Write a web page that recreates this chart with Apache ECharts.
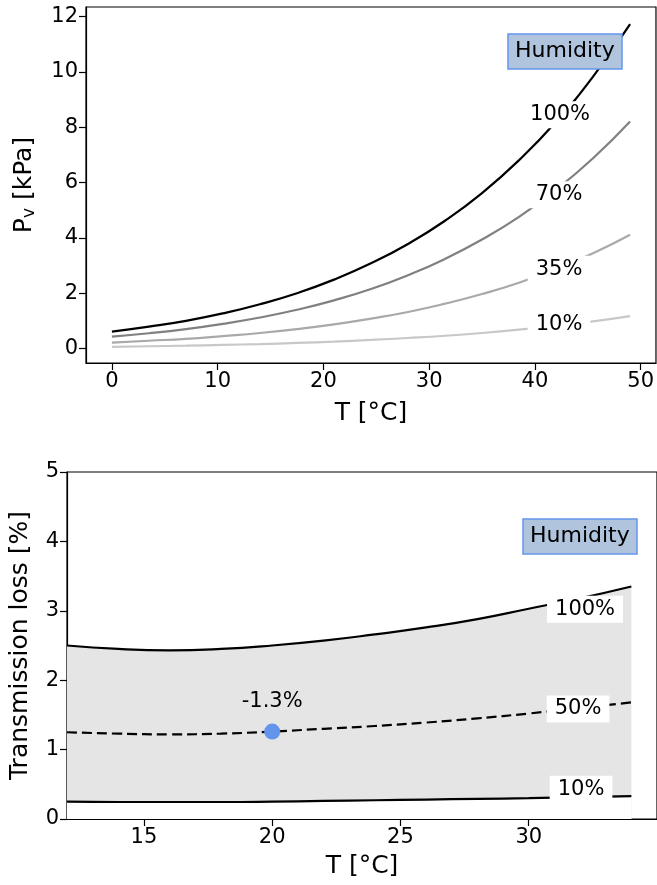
<!DOCTYPE html>
<html>
<head>
<meta charset="utf-8">
<script src="https://cdn.jsdelivr.net/npm/echarts@6/dist/echarts.min.js"></script>
<style>
  html, body { margin: 0; padding: 0; background: #fff; }
  #chart { width: 657px; height: 885px; }
</style>
</head>
<body>
<div id="chart"></div>
<script>
// top panel: vapour pressure vs temperature
const tempTop = [0, 3.5, 7, 10.5, 14, 17.5, 21, 24.5, 28, 31.5, 35, 38.5, 42, 45.5, 49];
const vp100 = [0.61, 0.79, 1.00, 1.27, 1.60, 2.00, 2.49, 3.08, 3.78, 4.62, 5.62, 6.81, 8.20, 9.83, 11.73];
const vp70 = [0.43, 0.55, 0.70, 0.89, 1.12, 1.40, 1.74, 2.15, 2.65, 3.24, 3.94, 4.76, 5.74, 6.88, 8.21];
const vp35 = [0.21, 0.28, 0.35, 0.45, 0.56, 0.70, 0.87, 1.08, 1.32, 1.62, 1.97, 2.38, 2.87, 3.44, 4.11];
const vp10 = [0.06, 0.08, 0.10, 0.13, 0.16, 0.20, 0.25, 0.31, 0.38, 0.46, 0.56, 0.68, 0.82, 0.98, 1.17];
const topNames = ['100%', '70%', '35%', '10%'];
const topColors = ['#000000', '#808080', '#a9a9a9', '#c8c8c8'];
const topNudge = [[4, -7], [3, 5], [3, 0], [3, -1]];
const xTicksTop = [0, 10, 20, 30, 40, 50];
const yTicksTop = [0, 2, 4, 6, 8, 10, 12];

// bottom panel: transmission loss vs temperature
const tempBottom = [12, 14, 16, 18, 20, 22, 24, 26, 28, 30, 32, 34];
const loss100 = [2.50, 2.45, 2.43, 2.45, 2.50, 2.57, 2.66, 2.76, 2.88, 3.03, 3.18, 3.35];
const loss50 = [1.25, 1.23, 1.22, 1.23, 1.26, 1.30, 1.34, 1.39, 1.45, 1.52, 1.60, 1.68];
const loss10 = [0.25, 0.245, 0.245, 0.245, 0.25, 0.26, 0.27, 0.28, 0.29, 0.30, 0.315, 0.33];
const bottomNames = ['100%', '50%', '10%'];
const bottomNudge = [[5, 11], [-2, 1], [1, -8]];
const xTicksBottom = [15, 20, 25, 30];
const yTicksBottom = [0, 1, 2, 3, 4, 5];
const refPoint = [20, 1.26];
const refText = '-1.3%';

const topLabelIdx = 12;
const bottomLabelIdx = 10;

const font = 'DejaVu Sans';
const pair = (xs, ys) => xs.map((x, i) => [x, ys[i]]);

function axis(idx, ticks, extra) {
    return Object.assign({
        type: 'value',
        gridIndex: idx,
        axisLine: { show: true, onZero: false, lineStyle: { color: '#000', width: 1.2 } },
        axisTick: { show: true, inside: false, length: 7, customValues: ticks, lineStyle: { color: '#000', width: 1.2 } },
        axisLabel: { customValues: ticks, fontSize: 21, color: '#000', fontFamily: font },
        splitLine: { show: false },
        nameLocation: 'middle',
        nameTextStyle: { fontSize: 25, color: '#000', fontFamily: font }
    }, extra);
}

function labelStyle() {
    return {
        show: true,
        position: 'inside',
        formatter: p => p.name,
        fontSize: 21,
        color: '#000',
        opacity: 1,
        textBorderWidth: 0,
        fontFamily: font,
        backgroundColor: '#fff',
        padding: [3, 8, 3, 8]
    };
}

const topSeries = [vp100, vp70, vp35, vp10].map((vals, i) => ({
    type: 'line',
    xAxisIndex: 0,
    yAxisIndex: 0,
    data: pair(tempTop, vals),
    smooth: true,
    symbol: 'none',
    z: 2,
    lineStyle: { color: topColors[i], width: 2.2 }
}));

const topLabels = {
    type: 'scatter',
    xAxisIndex: 0,
    yAxisIndex: 0,
    symbolSize: 0,
    z: 5,
    itemStyle: { opacity: 1 },
    label: labelStyle(),
    data: [vp100, vp70, vp35, vp10].map((vals, i) => ({
        name: topNames[i],
        value: [tempTop[topLabelIdx], vals[topLabelIdx]],
        label: { offset: topNudge[i] }
    }))
};

// shaded band: grey area under the 100% curve, then white area under the 10% curve
const bandUpper = {
    type: 'line',
    xAxisIndex: 1,
    yAxisIndex: 1,
    smooth: true,
    symbol: 'none',
    z: 1,
    lineStyle: { opacity: 0 },
    areaStyle: { color: '#e5e5e5', opacity: 1, origin: 'start' },
    data: pair(tempBottom, loss100)
};
const bandLower = {
    type: 'line',
    xAxisIndex: 1,
    yAxisIndex: 1,
    smooth: true,
    symbol: 'none',
    z: 1,
    lineStyle: { opacity: 0 },
    areaStyle: { color: '#ffffff', opacity: 1, origin: 'start' },
    data: pair(tempBottom, loss10)
};

const bottomSeries = [loss100, loss50, loss10].map((vals, i) => ({
    type: 'line',
    xAxisIndex: 1,
    yAxisIndex: 1,
    data: pair(tempBottom, vals),
    smooth: true,
    symbol: 'none',
    z: 2,
    lineStyle: { color: '#000', width: 2.2, type: i === 1 ? [10, 5] : 'solid' }
}));

const bottomLabels = {
    type: 'scatter',
    xAxisIndex: 1,
    yAxisIndex: 1,
    symbolSize: 0,
    z: 5,
    itemStyle: { opacity: 1 },
    label: labelStyle(),
    data: [loss100, loss50, loss10].map((vals, i) => ({
        name: bottomNames[i],
        value: [tempBottom[bottomLabelIdx], vals[bottomLabelIdx]],
        label: { offset: bottomNudge[i] }
    }))
};

const refSeries = {
    type: 'scatter',
    xAxisIndex: 1,
    yAxisIndex: 1,
    symbolSize: 16,
    z: 6,
    itemStyle: { color: '#6495ed', opacity: 1 },
    label: {
        show: true,
        position: 'top',
        distance: 12,
        formatter: refText,
        fontSize: 21,
        color: '#000',
        fontFamily: font
    },
    data: [refPoint]
};

function humidityBox(left, top) {
    return {
        text: 'Humidity',
        left: left,
        top: top,
        padding: [6, 7, 6, 7],
        backgroundColor: '#b0c4de',
        borderColor: '#6495ed',
        borderWidth: 1.5,
        textStyle: { fontSize: 22, fontWeight: 'normal', color: '#000', fontFamily: font, lineHeight: 23 }
    };
}

const chart = echarts.init(document.getElementById('chart'));
chart.setOption({
    animation: false,
    textStyle: { fontFamily: font },
    title: [humidityBox(508, 34), humidityBox(523, 519)],
    grid: [
        { left: 86, top: 7, right: -2, height: 356, show: true, borderColor: '#000', borderWidth: 1.2, backgroundColor: 'transparent' },
        { left: 67, top: 472, right: -2, height: 347, show: true, borderColor: '#000', borderWidth: 1.2, backgroundColor: 'transparent' }
    ],
    xAxis: [
        axis(0, xTicksTop, { min: -2.45, max: 51.45, name: 'T [°C]', nameGap: 38 }),
        axis(1, xTicksBottom, { min: 12, max: 35, name: 'T [°C]', nameGap: 35 })
    ],
    yAxis: [
        axis(0, yTicksTop, {
            min: -0.525, max: 12.35, nameGap: 48,
            name: '{a|P}{s|v}{a| [kPa]}',
            nameTextStyle: {
                fontSize: 25, color: '#000', fontFamily: font,
                rich: {
                    a: { fontSize: 25, color: '#000', fontFamily: font },
                    s: { fontSize: 17, color: '#000', fontFamily: font, verticalAlign: 'bottom', padding: [10, 0, 0, 0] }
                }
            }
        }),
        axis(1, yTicksBottom, { min: 0, max: 5, name: 'Transmission loss [%]', nameGap: 34 })
    ],
    series: [].concat(topSeries, [topLabels, bandUpper, bandLower], bottomSeries, [bottomLabels, refSeries])
});
</script>
</body>
</html>
